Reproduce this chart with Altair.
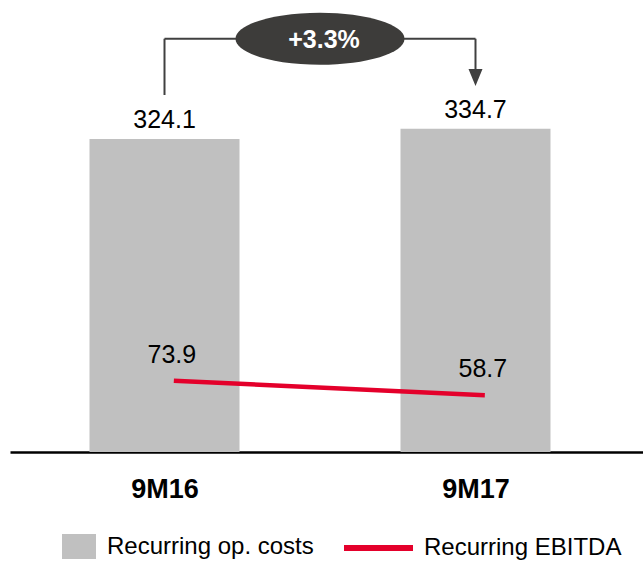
import json
import altair as alt
import pandas as pd

# ---- data ----
categories = ["9M16", "9M17"]
op_costs = [324.1, 334.7]
ebitda = [73.9, 58.7]
cost_name = "Recurring op. costs"
ebitda_name = "Recurring EBITDA"

# ---- styles ----
FONT = "Liberation Sans"
BAR_COLOR = "#c0c0c0"
LINE_COLOR = "#e4002b"
DARK = "#3d3c3a"
BRACKET = "#404040"

idx = list(range(len(categories)))
LINE_SHIFT = 0.03
bars_df = pd.DataFrame({"idx": idx, "cat": categories, "value": op_costs,
                        "cost_series": [cost_name] * len(idx)})
line_df = pd.DataFrame({"idx": [i + LINE_SHIFT for i in idx], "value": ebitda,
                        "ebitda_series": [ebitda_name] * len(idx)})

change = (op_costs[1] / op_costs[0] - 1) * 100
change_label = f"{change:+.1f}%"

BRACKET_Y = 428
bracket_df = pd.DataFrame({
    "idx": [0, 0, 1], "idx2": [0, 1, 1],
    "value": [op_costs[0] + 45.6, BRACKET_Y, BRACKET_Y],
    "value2": [BRACKET_Y, BRACKET_Y, op_costs[1] + 57],
})
arrow_df = pd.DataFrame({"idx": [1], "value": [op_costs[1] + 53.1]})
badge_df = pd.DataFrame({"idx": [0.5], "value": [BRACKET_Y], "label": [change_label]})

x_scale = alt.Scale(domain=[-0.4968, 1.5386], nice=False, zero=False, padding=0)
y_scale = alt.Scale(domain=[0, 468.1], nice=False, zero=True, padding=0)

label_expr = f"{json.dumps(categories)}[round(datum.value)]"
x_axis = alt.Axis(values=idx, labelExpr=label_expr, ticks=False, tickSize=0, grid=False,
                  domain=True, domainColor="black", domainWidth=2.5,
                  labelFont=FONT, labelFontSize=27, labelFontWeight="bold",
                  labelColor="black", labelBaseline="alphabetic", labelPadding=45,
                  labelFlush=False, labelOverlap=False, title=None)

X = alt.X("idx:Q", scale=x_scale, axis=x_axis)
Y = alt.Y("value:Q", scale=y_scale, axis=None)

bars = alt.Chart(bars_df).mark_bar(size=150).encode(
    x=X, y=Y, y2=alt.datum(0),
    fill=alt.Fill("cost_series:N",
                  scale=alt.Scale(domain=[cost_name], range=[BAR_COLOR]),
                  legend=alt.Legend(title=None, orient="none", legendX=52, legendY=529.5,
                                    symbolType="M-1,-0.735H1V0.735H-1Z", symbolSize=1156,
                                    symbolStrokeWidth=0, labelFont=FONT, labelFontSize=24,
                                    labelColor="black", labelOffset=11, labelLimit=400,
                                    padding=0)),
)

bar_labels = alt.Chart(bars_df).mark_text(font=FONT, fontSize=25, color="black",
                                          baseline="alphabetic", dy=-11).encode(
    x=X, y=Y, text=alt.Text("value:Q", format=".1f"))

line = alt.Chart(line_df).mark_line(strokeWidth=4.5, strokeCap="butt").encode(
    x=X, y=Y,
    stroke=alt.Stroke("ebitda_series:N",
                      scale=alt.Scale(domain=[ebitda_name], range=[LINE_COLOR]),
                      legend=alt.Legend(title=None, orient="none", legendX=331, legendY=510.5,
                                        symbolType="stroke", symbolSize=4761,
                                        symbolStrokeWidth=6, labelFont=FONT, labelFontSize=24,
                                        labelColor="black", labelOffset=8, labelLimit=400,
                                        padding=0)),
)

line_labels = alt.Chart(line_df).mark_text(font=FONT, fontSize=25, color="black",
                                           baseline="alphabetic", dy=-18, dx=-2).encode(
    x=X, y=Y, text=alt.Text("value:Q", format=".1f"))

bracket = alt.Chart(bracket_df).mark_rule(color=BRACKET, strokeWidth=2).encode(
    x=X, x2="idx2:Q", y=Y, y2="value2:Q")

arrow = alt.Chart(arrow_df).mark_point(shape="M0,1.21L-1,-1.21L1,-1.21Z", size=196,
                                       filled=True, color=BRACKET, opacity=1,
                                       strokeWidth=0).encode(x=X, y=Y)

ELLIPSE = ("M-1,0 C-1,-0.17 -0.552,-0.308 0,-0.308 C0.552,-0.308 1,-0.17 1,0 "
           "C1,0.17 0.552,0.308 0,0.308 C-0.552,0.308 -1,0.17 -1,0 Z")
badge = alt.Chart(badge_df).mark_point(shape=ELLIPSE, size=169 * 169, filled=True,
                                       color=DARK, opacity=1, strokeWidth=0).encode(x=X, y=Y)

badge_text = alt.Chart(badge_df).mark_text(font=FONT, fontSize=25, fontWeight="bold",
                                           color="white", baseline="alphabetic",
                                           dy=9.5, dx=4).encode(x=X, y=Y, text="label:N")

chart = alt.layer(bars, bar_labels, line, line_labels, bracket, arrow, badge, badge_text).properties(
    width=633, height=452,
    padding={"left": 10, "top": 0, "right": 0, "bottom": 109},
    autosize=alt.AutoSizeParams(type="none"),
    background="white",
).configure(font=FONT, view=alt.ViewConfig(stroke=None))

chart.save("out.html", embed_options={"renderer": "svg", "actions": False})
